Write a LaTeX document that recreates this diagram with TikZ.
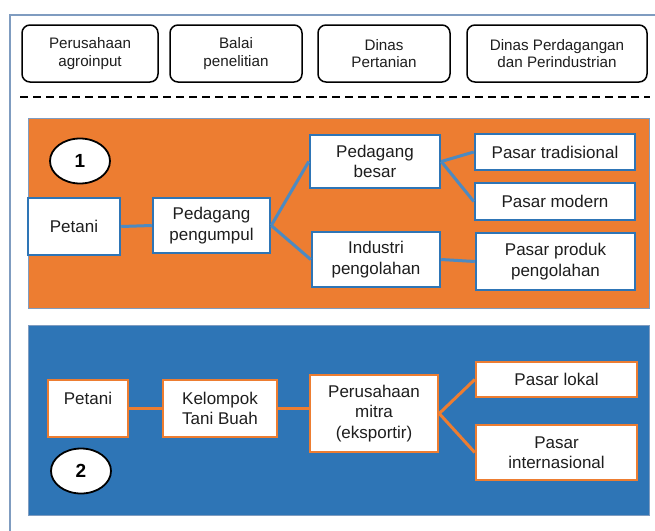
\documentclass[tikz,border=0pt]{standalone}
\usepackage{fontspec}
\setmainfont{Liberation Sans}
\usetikzlibrary{positioning,shapes.geometric}
\definecolor{oranye}{HTML}{ED7D31}
\definecolor{biru}{HTML}{2E75B6}
\definecolor{bingkai}{HTML}{7F9CC0}
\definecolor{teks}{HTML}{1E1E1E}

\begin{document}
\begin{tikzpicture}[x=1pt, y=-1pt,
    lembaga/.style={draw=black, line width=1.5pt, rounded corners=8pt, fill=white, align=center, text=teks, font=\fontsize{15.2}{17.5}\selectfont, inner sep=0pt},
    kotakA/.style={draw=biru, line width=2.5pt, fill=white, align=center, text=teks, font=\fontsize{17}{20.5}\selectfont, inner sep=0pt},
    kotakB/.style={draw=oranye, line width=2.5pt, fill=white, align=center, text=teks, font=\fontsize{17}{20.5}\selectfont, inner sep=0pt},
    nomor/.style={ellipse, draw=black, line width=1.8pt, fill=white, minimum width=60pt, minimum height=45pt, inner sep=0pt, font=\fontsize{19}{19}\selectfont\bfseries},
    jalurA/.style={draw=biru!85!white, line width=3pt},
    jalurB/.style={draw=oranye, line width=3pt}]

    \useasboundingbox (0,0) rectangle (655,530);
    \clip (0,0) rectangle (655,530);

    \draw[bingkai, line width=2pt] (10,15) rectangle (670,545);

    \node[lembaga, minimum width=136pt, minimum height=57pt] (ta) at (90,53.5) {Perusahaan\\agroinput};
    \node[lembaga, minimum width=132pt, minimum height=57pt] (tb) at (236,53.5) {Balai\\penelitian};
    \node[lembaga, minimum width=132pt, minimum height=57pt] (tc) at (384,53.5) {Dinas\\Pertanian};
    \node[lembaga, minimum width=180pt, minimum height=57pt] (td) at (557,53.5) {Dinas Perdagangan\\dan Perindustrian};

    \draw[line width=2pt, dash pattern=on 8pt off 5pt] (20,97) -- (650,97);

    % saluran 1
    \draw[fill=oranye, draw=bingkai, line width=1pt] (28,118) rectangle (649,308);
    \node[nomor] (n1) at (80,161) {1};
    \node[kotakA, minimum width=92pt, minimum height=57pt] (petani1) at (74,226.5) {Petani};
    \node[kotakA, minimum width=117pt, minimum height=55pt] (pengumpul) at (211.5,225.5) {Pedagang\\pengumpul};
    \node[kotakA, minimum width=130pt, minimum height=53pt] (besar) at (375,161.5) {Pedagang\\besar};
    \node[kotakA, minimum width=128pt, minimum height=55pt] (industri) at (376,259.5) {Industri\\pengolahan};
    \node[kotakA, minimum width=160pt, minimum height=36pt] (tradisional) at (555,152) {Pasar tradisional};
    \node[kotakA, minimum width=160pt, minimum height=37pt] (modern) at (555,201.5) {Pasar modern};
    \node[kotakA, minimum width=159pt, minimum height=57pt] (produk) at (555.5,261.5) {Pasar produk\\pengolahan};

    \draw[jalurA] (petani1.east) -- (pengumpul.west);
    \draw[jalurA] (pengumpul.east) -- (besar.west);
    \draw[jalurA] (pengumpul.east) -- (industri.west);
    \draw[jalurA] (besar.east) -- (tradisional.west);
    \draw[jalurA] (besar.east) -- (modern.west);
    \draw[jalurA] (industri.east) -- (produk.west);

    % saluran 2
    \draw[fill=biru, draw=bingkai, line width=1pt] (28,325) rectangle (649,515);
    \node[nomor] (n2) at (81,471) {2};
    \node[kotakB, minimum width=80pt, minimum height=57pt, text depth=20pt] (petani2) at (88,408.5) {Petani};
    \node[kotakB, minimum width=114pt, minimum height=57pt] (kelompok) at (220,408.5) {Kelompok\\Tani Buah};
    \node[kotakB, minimum width=128pt, minimum height=77pt] (mitra) at (374,413.5) {Perusahaan\\mitra\\(eksportir)};
    \node[kotakB, minimum width=161pt, minimum height=35pt] (lokal) at (556.5,379.5) {Pasar lokal};
    \node[kotakB, minimum width=161pt, minimum height=55pt] (internasional) at (556.5,452.5) {Pasar\\internasional};

    \draw[jalurB] (petani2.east) -- (kelompok.west);
    \draw[jalurB] (kelompok.east) -- (kelompok.east -| mitra.west);
    \draw[jalurB] (mitra.east) -- (lokal.west);
    \draw[jalurB] (mitra.east) -- (internasional.west);

\end{tikzpicture}
\end{document}
